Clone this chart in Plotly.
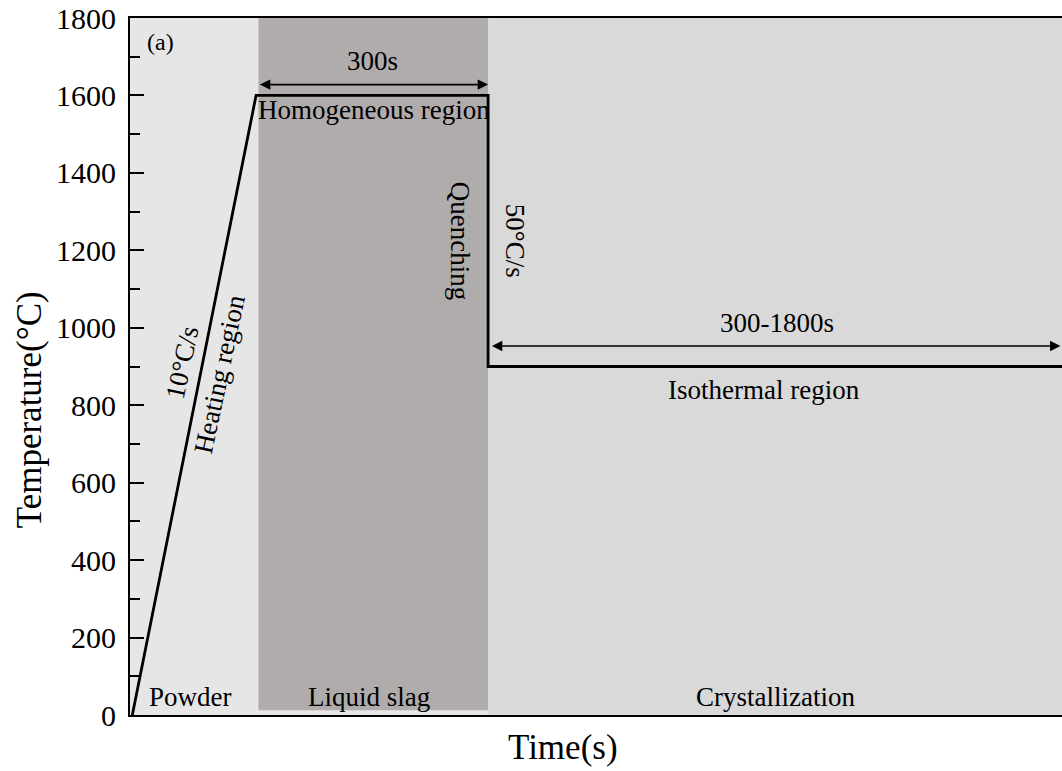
import plotly.graph_objects as go

# ---- data ----
time_s = [0, 160, 460, 460, 1202]
temp_c = [0, 1600, 1600, 900, 900]

regions = ["Powder", "Liquid slag", "Crystallization"]
region_start = [-3, 163, 460]
region_end = [163, 460, 1202]
region_colors = ["#e6e6e6", "#b0acab", "#d9d9d9"]
region_bottom = [0, 12, 0]

y_ticks = [0, 200, 400, 600, 800, 1000, 1200, 1400, 1600, 1800]

FONT = "Liberation Serif"

fig = go.Figure()

# base light fill under the liquid slag band
fig.add_shape(type="rect", xref="x", yref="y", x0=163, x1=460, y0=0, y1=1800,
              fillcolor="#e6e6e6", line=dict(width=0), layer="below")
for x0, x1, c, yb in zip(region_start, region_end, region_colors, region_bottom):
    fig.add_shape(type="rect", xref="x", yref="y", x0=x0, x1=x1, y0=yb, y1=1800,
                  fillcolor=c, line=dict(width=0), layer="below")

fig.add_trace(go.Scatter(x=time_s, y=temp_c, mode="lines",
                         line=dict(color="black", width=2.8), showlegend=False,
                         hoverinfo="skip"))

def txt(x, y, s, size=27, angle=0):
    fig.add_annotation(x=x, y=y, xref="x", yref="y", text=s, showarrow=False,
                       xanchor="center", yanchor="middle",
                       textangle=angle, font=dict(family=FONT, size=size, color="black"))

def darrow(x0, x1, y):
    fig.add_annotation(x=x1, y=y, ax=x0, ay=y, xref="x", yref="y", axref="x", ayref="y",
                       text="", showarrow=True, arrowhead=2, arrowside="end+start",
                       arrowsize=1.3, arrowwidth=1.6, arrowcolor="black")

darrow(163, 460, 1628)
darrow(463, 1200, 953)

txt(36, 1737, "(a)", 24)
txt(311, 1690, "300s")
txt(313, 1562, "Homogeneous region")
txt(424, 1224, "Quenching", 27, 90)
txt(495, 1224, "50°C/s", 27, 90)
txt(64, 910, "10°C/s", 27, -78)
txt(113, 880, "Heating region", 27, -78)
txt(834, 1012, "300-1800s")
txt(817, 839, "Isothermal region")
for name, x in zip(regions, [75, 306, 831]):
    txt(x, 46, name)

# axis titles
fig.add_annotation(x=0.465, y=-0.0473, xref="paper", yref="paper", text="Time(s)",
                   xanchor="center", yanchor="middle",
                   showarrow=False, font=dict(family=FONT, size=35, color="black"))
fig.add_annotation(x=-0.107, y=0.4376, xref="paper", yref="paper", text="Temperature(°C)",
                   xanchor="center", yanchor="middle",
                   showarrow=False, textangle=-90, font=dict(family=FONT, size=35, color="black"))

fig.update_layout(
    width=1062, height=771,
    margin=dict(l=130, r=0, t=18, b=56),
    paper_bgcolor="white", plot_bgcolor="white",
    font=dict(family=FONT, color="black"),
    xaxis=dict(range=[-3, 1202], showticklabels=False, ticks="", showgrid=False,
               zeroline=False, showline=True, linecolor="black", linewidth=2, mirror=True),
    yaxis=dict(range=[0, 1800], tickvals=y_ticks, ticks="inside", ticklen=14, tickwidth=2,
               tickcolor="black", minor=dict(dtick=100, ticks="inside", ticklen=10,
                                             tickwidth=2, tickcolor="black"),
               showgrid=False, zeroline=False, showline=True, linecolor="black", linewidth=2,
               tickfont=dict(family=FONT, size=30, color="black"), ticklabelstandoff=6),
)

fig.write_html("out.html")
